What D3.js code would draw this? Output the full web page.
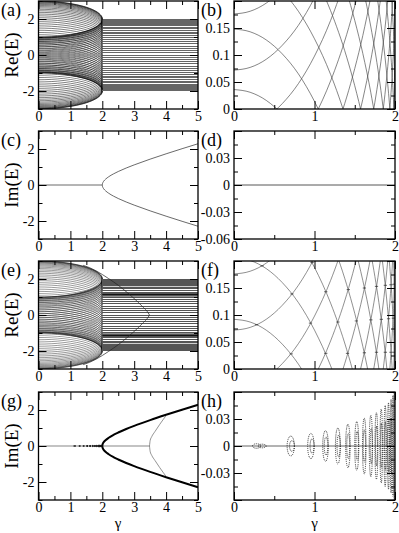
<!DOCTYPE html>
<html><head><meta charset="utf-8">
<script src="https://cdn.jsdelivr.net/npm/d3@7"></script>
<style>
body{margin:0;background:#fff}
svg{display:block}
</style>
</head><body>
<svg id="c" width="399" height="533"></svg>
<script>
// ---------------- data ----------------
// gamma samples and the half-splitting of each band level
const gammaS = [0,0.2,0.4,0.6,0.8,1.0,1.2,1.4,1.5,1.6,1.7,1.8,1.85,1.9,1.94,1.97,1.99,2.0];
const shapeS = [1,0.995,0.980,0.954,0.917,0.866,0.800,0.714,0.661,0.600,0.527,0.436,0.380,0.312,0.243,0.173,0.100,0];
// real levels reached for gamma > 2, system 1 (panels a-d)
const levelsA = [1.996,1.984,1.965,1.937,1.902,1.860,1.810,1.753,1.689,1.618,1.541,1.458,1.369,1.275,1.176,1.072,0.964,0.852,0.736,0.618,0.497,0.375,0.251,0.126,0,
 -0.126,-0.251,-0.375,-0.497,-0.618,-0.736,-0.852,-0.964,-1.072,-1.176,-1.275,-1.369,-1.458,-1.541,-1.618,-1.689,-1.753,-1.810,-1.860,-1.902,-1.937,-1.965,-1.984,-1.996];
// extra set of levels, system 2 (panels e-h)
const levelsQ = [1.999,1.991,1.975,1.952,1.921,1.882,1.836,1.782,1.722,1.654,1.580,1.500,1.414,1.323,1.226,1.124,1.018,0.908,0.794,0.678,0.558,0.436,0.313,0.188,0.063,
 -0.063,-0.188,-0.313,-0.436,-0.558,-0.678,-0.794,-0.908,-1.018,-1.124,-1.226,-1.323,-1.414,-1.500,-1.580,-1.654,-1.722,-1.782,-1.836,-1.882,-1.921,-1.952,-1.975,-1.991,-1.999];
// dark (crowded) bands of Re(E) in (e) for gamma > 2: [low, high]
const bandsE = [[1.60,1.96],[1.03,1.19],[-1.19,-1.03],[-1.96,-1.60]];
// imaginary branch for gamma > 2
const gammaH = [2,2.005,2.02,2.05,2.1,2.2,2.35,2.5,2.75,3,3.5,4,4.5,5];
const imH    = [0,0.071,0.142,0.225,0.320,0.458,0.617,0.750,0.944,1.118,1.436,1.732,2.016,2.291];
// isolated state of system 2 : real part (e) and imaginary part (g)
const edgeReG = [1.4,1.6,1.8,2.0,2.2,2.5,2.8,3.1,3.3,3.42,3.48];
const edgeReE = [2.76,2.63,2.46,2.25,2.02,1.65,1.22,0.75,0.40,0.17,0];
const edgeImG = [3.48,3.5,3.55,3.65,3.8,3.9,4.0];
const edgeImE = [0,0.30,0.52,0.80,1.20,1.45,1.69];
// coalescence points in (f): gamma, Re(E)
const epGamma = [0.28,0.35,0.72,0.71,0.95,0.97,1.14,1.14,1.29,1.42,1.41,1.52,1.62,1.62,1.70,1.77,1.77,1.83,1.88,1.88,1.92,1.95,1.95,1.98,1.99,1.99];
const epRe    = [0.082,0.191,0.139,0.028,0.085,0.197,0.143,0.029,0.087,0.147,0.029,0.089,0.150,0.030,0.091,0.153,0.031,0.092,0.155,0.031,0.093,0.156,0.031,0.094,0.157,0.031];
// loops of Im(E) in (h): centre gamma, half width (gamma), half height (Im)
const loopG  = [0.28,0.35,0.705,0.72,0.955,0.97,1.137,1.143,1.29,1.30,1.415,1.419,1.525,1.53,1.618,1.62,1.70,1.705,1.769,1.77,1.829,1.83,1.878,1.879,1.919,1.92,1.951,1.953,1.975,1.991];
const loopW  = [0.05,0.05,0.045,0.03,0.04,0.025,0.035,0.022,0.03,0.02,0.028,0.018,0.025,0.016,0.022,0.015,0.02,0.013,0.018,0.012,0.016,0.011,0.014,0.01,0.012,0.009,0.01,0.008,0.008,0.006];
const loopH  = [0.0025,0.002,0.011,0.006,0.014,0.008,0.017,0.010,0.020,0.012,0.024,0.014,0.027,0.016,0.031,0.018,0.034,0.020,0.037,0.022,0.041,0.025,0.045,0.027,0.048,0.029,0.052,0.031,0.056,0.060];

// tick values
const xTicks5 = [0,1,2,3,4,5], xMinor5 = [0.5,1.5,2.5,3.5,4.5];
const xTicks2 = [0,1,2], xMinor2 = [0.5,1.5];
const yTicksBig = [-2,0,2], yMinorBig = [-3,-1,1,3];
const yTicksRe = [0,0.05,0.1,0.15,0.2], yMinorRe = [0.025,0.075,0.125,0.175];
const yTicksIm = [-0.06,-0.03,0,0.03,0.06], yMinorIm = [-0.045,-0.015,0.015,0.045];

// ---------------- drawing ----------------
const svg = d3.select('#c');
const FONT = "'Liberation Serif','Times New Roman',Times,serif";

function panel(o){
  const x = d3.scaleLinear().domain(o.xd).range([o.l,o.r]);
  const y = d3.scaleLinear().domain(o.yd).range([o.b,o.t]);
  const id = 'clip' + o.key;
  svg.append('clipPath').attr('id',id).append('rect')
    .attr('x',o.l).attr('y',o.t).attr('width',o.r-o.l).attr('height',o.b-o.t);
  const plot = svg.append('g').attr('clip-path',`url(#${id})`);
  const ticks = (fn, sc, vals, size, tr) => svg.append('g').attr('transform',tr)
      .call(fn(sc).tickValues(vals).tickSize(size).tickFormat(''))
      .call(g=>{g.select('.domain').remove(); g.selectAll('line').attr('stroke','#000').attr('stroke-width',1);});
  ticks(d3.axisBottom,x,o.xMaj,-8,`translate(0,${o.b})`);
  ticks(d3.axisBottom,x,o.xMin,-4,`translate(0,${o.b})`);
  ticks(d3.axisTop,x,o.xMaj,-8,`translate(0,${o.t})`);
  ticks(d3.axisTop,x,o.xMin,-4,`translate(0,${o.t})`);
  ticks(d3.axisLeft,y,o.yMaj,-8,`translate(${o.l},0)`);
  ticks(d3.axisLeft,y,o.yMin,-4,`translate(${o.l},0)`);
  ticks(d3.axisRight,y,o.yMaj,-8,`translate(${o.r},0)`);
  ticks(d3.axisRight,y,o.yMin,-4,`translate(${o.r},0)`);
  // labels
  svg.append('g').attr('transform',`translate(0,${o.b})`)
    .call(d3.axisBottom(x).tickValues(o.xLab).tickSize(0).tickPadding(2.5).tickFormat(d=>String(d)))
    .call(g=>{g.select('.domain').remove(); g.attr('font-family',FONT).attr('font-size',14);});
  svg.append('g').attr('transform',`translate(${o.l},0)`)
    .call(d3.axisLeft(y).tickValues(o.yLab).tickSize(0).tickPadding(4).tickFormat(d=>String(d)))
    .call(g=>{g.select('.domain').remove(); g.attr('font-family',FONT).attr('font-size',14);});
  svg.append('rect').attr('x',o.l).attr('y',o.t).attr('width',o.r-o.l).attr('height',o.b-o.t)
    .attr('fill','none').attr('stroke','#000').attr('stroke-width',1.3);
  svg.append('text').attr('x',o.lx).attr('y',o.t+15).attr('font-family',FONT).attr('font-size',18).text(o.name);
  return {x,y,plot};
}

const L = {l:38.5,r:198}, R = {l:234,r:395};
const rows = [{t:1,b:109},{t:131,b:239},{t:261,b:369},{t:392,b:500}];

const pa = panel({...L,...rows[0],key:'a',name:'(a)',lx:1,xd:[0,5],yd:[-3,3],xMaj:xTicks5,xMin:xMinor5,yMaj:yTicksBig,yMin:yMinorBig,xLab:xTicks5,yLab:[-2,0,2]});
const pb = panel({...R,...rows[0],key:'b',name:'(b)',lx:201,xd:[0,2],yd:[0,0.2],xMaj:xTicks2,xMin:xMinor2,yMaj:yTicksRe,yMin:yMinorRe,xLab:xTicks2,yLab:[0,0.05,0.1,0.15]});
const pc = panel({...L,...rows[1],key:'c',name:'(c)',lx:1,xd:[0,5],yd:[-3,3],xMaj:xTicks5,xMin:xMinor5,yMaj:yTicksBig,yMin:yMinorBig,xLab:xTicks5,yLab:[-2,0,2]});
const pd = panel({...R,...rows[1],key:'d',name:'(d)',lx:201,xd:[0,2],yd:[-0.06,0.06],xMaj:xTicks2,xMin:xMinor2,yMaj:yTicksIm,yMin:yMinorIm,xLab:xTicks2,yLab:[-0.06,-0.03,0,0.03]});
const pe = panel({...L,...rows[2],key:'e',name:'(e)',lx:1,xd:[0,5],yd:[-3,3],xMaj:xTicks5,xMin:xMinor5,yMaj:yTicksBig,yMin:yMinorBig,xLab:xTicks5,yLab:[-2,0,2]});
const pf = panel({...R,...rows[2],key:'f',name:'(f)',lx:201,xd:[0,2],yd:[0,0.2],xMaj:xTicks2,xMin:xMinor2,yMaj:yTicksRe,yMin:yMinorRe,xLab:xTicks2,yLab:[0,0.05,0.1,0.15]});
const pg = panel({...L,...rows[3],key:'g',name:'(g)',lx:1,xd:[0,5],yd:[-3,3],xMaj:xTicks5,xMin:xMinor5,yMaj:yTicksBig,yMin:yMinorBig,xLab:xTicks5,yLab:[-2,0,2]});
const ph = panel({...R,...rows[3],key:'h',name:'(h)',lx:201,xd:[0,2],yd:[-0.06,0.06],xMaj:xTicks2,xMin:xMinor2,yMaj:yTicksIm,yMin:yMinorIm,xLab:xTicks2,yLab:[-0.03,0,0.03]});

// axis titles
[['Re(E)',55],['Im(E)',185],['Re(E)',315],['Im(E)',446]].forEach(([t,cy])=>{
  svg.append('text').attr('transform',`translate(18,${cy}) rotate(-90)`).attr('text-anchor','middle')
    .attr('font-family',FONT).attr('font-size',19).text(t);
});
[118,314.5].forEach(cx=>svg.append('text').attr('x',cx).attr('y',528).attr('text-anchor','middle')
  .attr('font-family',FONT).attr('font-size',15).text('γ'));

function lineOf(p){ return d3.line().x(d=>p.x(d[0])).y(d=>p.y(d[1])).curve(d3.curveMonotoneX); }
function draw(p, pts, stroke, w, dash, crisp){
  p.plot.append('path').attr('d',lineOf(p)(pts)).attr('fill','none')
    .attr('stroke',stroke).attr('stroke-width',w).attr('stroke-dasharray',dash||null)
    .attr('shape-rendering',crisp?'crispEdges':null);
}
const branch = (lev, sign) => gammaS.map((g,i)=>[g, lev + sign*shapeS[i]]);

// (a) and (b): system 1
levelsA.forEach(v=>{
  draw(pa, branch(v,+1), '#000', 0.5);
  draw(pa, branch(v,-1), '#000', 0.5);
  draw(pa, [[2,v],[5,v]], '#666', 1, null, true);
  draw(pb, branch(v,+1), '#444', 0.65);
  draw(pb, branch(v,-1), '#444', 0.65);
});
// (c) and (d)
draw(pc, [[0,0],[2,0]], '#444', 0.8);
draw(pc, gammaH.map((g,i)=>[g, imH[i]]), '#444', 0.8);
draw(pc, gammaH.map((g,i)=>[g,-imH[i]]), '#444', 0.8);
draw(pd, [[0,0],[2,0]], '#444', 0.9);

// (e) and (f): system 2
pe.plot.selectAll(null).data(bandsE).enter().append('rect')
  .attr('x',pe.x(2)).attr('width',pe.x(5)-pe.x(2))
  .attr('y',d=>pe.y(d[1])).attr('height',d=>pe.y(d[0])-pe.y(d[1]))
  .attr('fill','#111');
levelsQ.forEach(v=>{
  draw(pe, branch(v,+1), '#000', 0.4);
  draw(pf, branch(v,+1), '#444', 0.6);
});
levelsA.forEach(v=>{
  draw(pe, branch(v,-1), '#000', 0.4);
  draw(pe, [[2,v],[5,v]], '#555', 1, null, true);
  draw(pf, branch(v,-1), '#444', 0.6);
});
draw(pe, edgeReG.map((g,i)=>[g, edgeReE[i]]), '#222', 0.7);
draw(pe, edgeReG.map((g,i)=>[g,-edgeReE[i]]), '#222', 0.7);
epGamma.forEach((g,i)=>{
  draw(pf, [[g-0.02,epRe[i]],[g+0.02,epRe[i]]], '#333', 0.8);
});

// (g) and (h)
draw(pg, [[0,0],[3.48,0]], '#555', 0.7);
draw(pg, gammaH.map((g,i)=>[g, imH[i]]), '#000', 2);
draw(pg, gammaH.map((g,i)=>[g,-imH[i]]), '#000', 2);
draw(pg, edgeImG.map((g,i)=>[g, edgeImE[i]]), '#666', 0.7);
draw(pg, edgeImG.map((g,i)=>[g,-edgeImE[i]]), '#666', 0.7);
draw(ph, [[0,0],[2,0]], '#555', 0.9);
function loops(p, dash, w, c, minR, minH){
  const idx = loopG.map((g,i)=>i).filter(i=>loopH[i] >= minH);
  p.plot.selectAll(null).data(idx).enter().append('ellipse')
    .attr('cx',i=>p.x(loopG[i]))
    .attr('cy',p.y(0))
    .attr('rx',i=>p.x(loopG[i]+loopW[i])-p.x(loopG[i]))
    .attr('ry',i=>Math.max(minR,p.y(0)-p.y(loopH[i])))
    .attr('fill','none').attr('stroke',c).attr('stroke-width',w)
    .attr('stroke-dasharray',dash);
}
loops(ph,'1,1',0.9,'#222',0.6,0);
loops(pg,null,0.9,'#111',0,0.015);
</script>
</body></html>
